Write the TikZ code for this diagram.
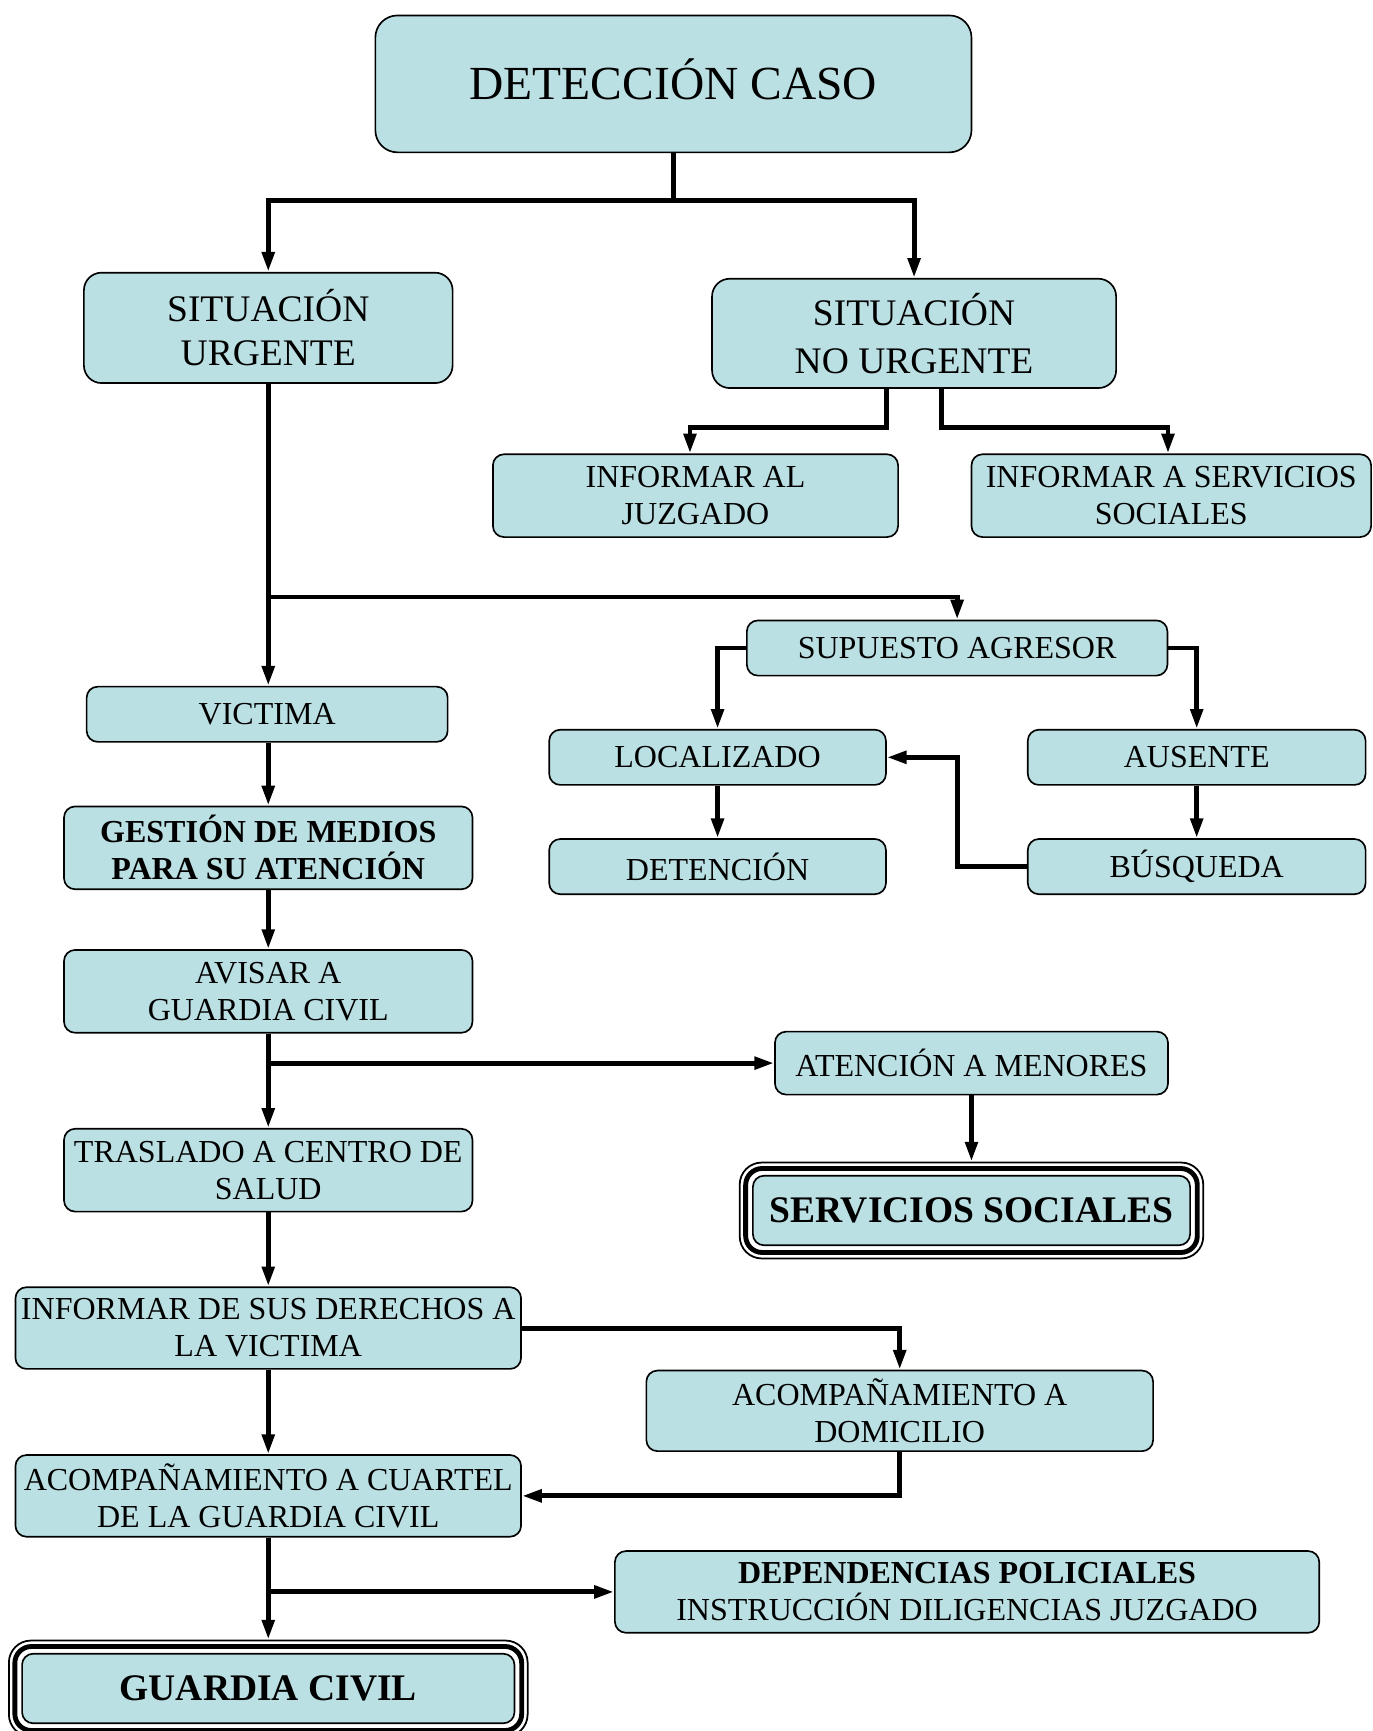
\documentclass[tikz,border=0pt]{standalone}
\usepackage{fontspec}
\setmainfont{Liberation Serif}
\usetikzlibrary{arrows.meta}
\definecolor{boxblue}{RGB}{187,224,227}
\tikzstyle{stepbox} = [draw=black, fill=boxblue, line width=0.75pt,
    rounded corners=5pt, inner sep=0pt, align=center,
    font=\fontsize{14.5}{16.75}\selectfont]
\tikzstyle{bigbox} = [stepbox, rounded corners=8pt, font=\fontsize{17}{20}\selectfont]
\tikzstyle{titlebox} = [stepbox, rounded corners=10pt, text height=14.5pt, text depth=0pt,
    font=\fontsize{21.5}{25}\selectfont]
\tikzstyle{endbox} = [stepbox, font=\bfseries\fontsize{17}{20}\selectfont]
\tikzstyle{link} = [line width=2.2pt, -{Triangle[length=9pt,width=5.5pt]}]
\newcommand{\ringbox}[1]{
    \draw[line width=2.2pt, rounded corners=7.5pt] ([shift={(-2.9pt,-2.9pt)}]#1.south west) rectangle ([shift={(2.9pt,2.9pt)}]#1.north east);
    \draw[line width=0.8pt, rounded corners=10pt] ([shift={(-5.6pt,-5.6pt)}]#1.south west) rectangle ([shift={(5.6pt,5.6pt)}]#1.north east);
}

\begin{document}
\begin{tikzpicture}[x=0.5pt,y=-0.5pt]
\useasboundingbox (0,0) rectangle (1243,1568);

% top of the chart
\node[titlebox, minimum width=270pt, minimum height=62pt] (caso) at (610,76) {DETECCIÓN CASO};
\node[bigbox, minimum width=167pt, minimum height=50pt] (urgente) at (243,297) {SITUACIÓN\\URGENTE};
\node[bigbox, minimum width=183pt, minimum height=49.5pt, font=\fontsize{17}{22}\selectfont] (nourgente) at (828,302) {SITUACIÓN\\NO URGENTE};
\node[stepbox, minimum width=183.5pt, minimum height=37.5pt] (juzgado) at (630,449) {INFORMAR AL\\JUZGADO};
\node[stepbox, minimum width=181pt, minimum height=37.5pt] (sociales) at (1061,449) {INFORMAR A SERVICIOS\\SOCIALES};

% agresor branch
\node[stepbox, minimum width=190.5pt, minimum height=25pt] (agresor) at (867,587) {SUPUESTO AGRESOR};
\node[stepbox, minimum width=152.5pt, minimum height=25pt] (localizado) at (650,686) {LOCALIZADO};
\node[stepbox, minimum width=153pt, minimum height=25pt] (ausente) at (1084,686) {AUSENTE};
\node[stepbox, minimum width=152.5pt, minimum height=25pt] (detencion) at (650,785) {DETENCIÓN};
\node[stepbox, minimum width=153pt, minimum height=25pt] (busqueda) at (1084,785) {BÚSQUEDA};

% victima branch
\node[stepbox, minimum width=163.5pt, minimum height=25pt] (victima) at (242,647) {VICTIMA};
\node[stepbox, minimum width=185pt, minimum height=37.5pt, font=\bfseries\fontsize{14.5}{16.75}\selectfont] (medios) at (243,768) {GESTIÓN DE MEDIOS\\PARA SU ATENCIÓN};
\node[stepbox, minimum width=185pt, minimum height=37.5pt] (avisar) at (243,898) {AVISAR A\\GUARDIA CIVIL};
\node[stepbox, minimum width=178pt, minimum height=28.5pt] (menores) at (880,963) {ATENCIÓN A MENORES};
\node[stepbox, minimum width=185pt, minimum height=37.5pt] (traslado) at (243,1060) {TRASLADO A CENTRO DE\\SALUD};
\node[endbox, minimum width=198pt, minimum height=31.5pt] (servsoc) at (880,1096.5) {SERVICIOS SOCIALES};
\ringbox{servsoc}
\node[stepbox, minimum width=229pt, minimum height=37pt] (derechos) at (243,1203) {INFORMAR DE SUS DERECHOS A\\LA VICTIMA};
\node[stepbox, minimum width=229.5pt, minimum height=36.5pt] (domicilio) at (815,1278) {ACOMPAÑAMIENTO A\\DOMICILIO};
\node[stepbox, minimum width=229pt, minimum height=37pt] (cuartel) at (243,1355) {ACOMPAÑAMIENTO A CUARTEL\\DE LA GUARDIA CIVIL};
\node[stepbox, minimum width=319pt, minimum height=37pt] (policia) at (876,1442) {\textbf{DEPENDENCIAS POLICIALES}\\INSTRUCCIÓN DILIGENCIAS JUZGADO};
\node[endbox, minimum width=223pt, minimum height=31.5pt] (guardia) at (243,1529.5) {GUARDIA CIVIL};
\ringbox{guardia}

% connectors
\draw[link] (caso.south) -- ++(0,43) -| (urgente.north);
\draw[link] (caso.south) -- ++(0,43) -| (nourgente.north);
\draw[link] ([xshift=-12.5pt]nourgente.south) -- ++(0,35) -| ([xshift=-2.5pt]juzgado.north);
\draw[link] ([xshift=12.5pt]nourgente.south) -- ++(0,35) -| ([xshift=-1.5pt]sociales.north);
\draw[link] (urgente.south) -- (urgente.south |- victima.north);
\draw[link] (urgente.south) -- ++(0,193) -| (agresor.north);
\draw[link] (agresor.west) -| (localizado.north);
\draw[link] (agresor.east) -| (ausente.north);
\draw[link] (localizado.south) -- (detencion.north);
\draw[link] (ausente.south) -- (busqueda.north);
\draw[link] (busqueda.west) -- ++(-63,0) |- (localizado.east);
\draw[link] (victima.south -| medios.north) -- (medios.north);
\draw[link] (medios.south) -- (avisar.north);
\draw[link] (avisar.south) -- (traslado.north);
\draw[link] (avisar.south) |- (menores.west);
\draw[link] (menores.south) -- ([yshift=6pt]servsoc.north);
\draw[link] (traslado.south) -- (derechos.north);
\draw[link] (derechos.east) -| (domicilio.north);
\draw[link] (derechos.south) -- (cuartel.north);
\draw[link] (domicilio.south) |- (cuartel.east);
\draw[link] (cuartel.south) |- (policia.west);
\draw[link] (cuartel.south) -- ([yshift=6pt]guardia.north);
\end{tikzpicture}
\end{document}
